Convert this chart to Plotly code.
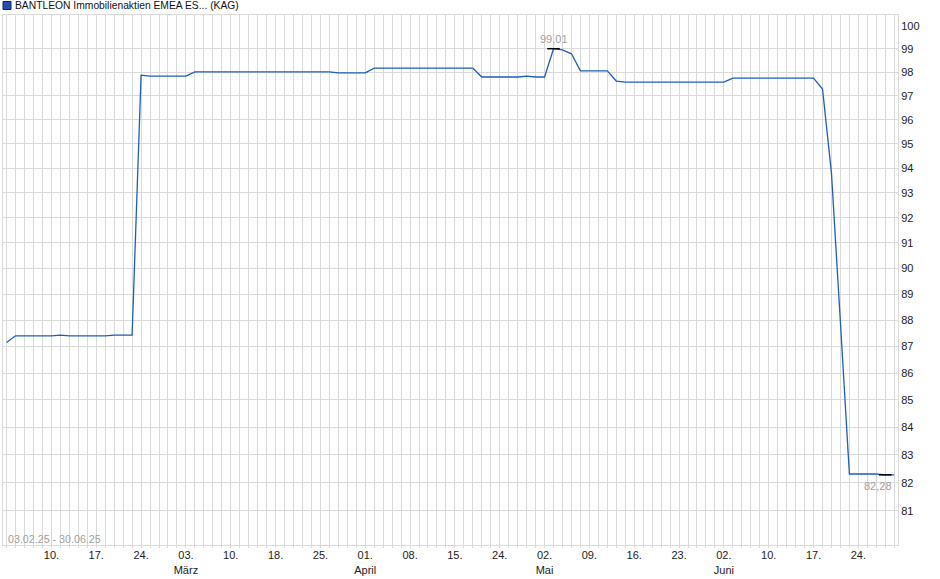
import plotly.graph_objects as go
import numpy as np

# fund prices (one value per trading day)
dates = [
    "2025-02-03", "2025-02-04", "2025-02-05", "2025-02-06", "2025-02-07",
    "2025-02-10", "2025-02-11", "2025-02-12", "2025-02-13", "2025-02-14",
    "2025-02-17", "2025-02-18", "2025-02-19", "2025-02-20", "2025-02-21",
    "2025-02-24", "2025-02-25", "2025-02-26", "2025-02-27", "2025-02-28",
    "2025-03-03", "2025-03-04", "2025-03-05", "2025-03-06", "2025-03-07",
    "2025-03-10", "2025-03-11", "2025-03-12", "2025-03-13", "2025-03-14",
    "2025-03-18", "2025-03-19", "2025-03-20", "2025-03-21", "2025-03-24",
    "2025-03-25", "2025-03-26", "2025-03-27", "2025-03-28", "2025-03-31",
    "2025-04-01", "2025-04-02", "2025-04-03", "2025-04-04", "2025-04-07",
    "2025-04-08", "2025-04-09", "2025-04-10", "2025-04-11", "2025-04-14",
    "2025-04-15", "2025-04-16", "2025-04-17", "2025-04-22", "2025-04-23",
    "2025-04-24", "2025-04-25", "2025-04-28", "2025-04-29", "2025-04-30",
    "2025-05-02", "2025-05-05", "2025-05-06", "2025-05-07", "2025-05-08",
    "2025-05-09", "2025-05-12", "2025-05-13", "2025-05-14", "2025-05-15",
    "2025-05-16", "2025-05-19", "2025-05-20", "2025-05-21", "2025-05-22",
    "2025-05-23", "2025-05-26", "2025-05-27", "2025-05-28", "2025-05-30",
    "2025-06-02", "2025-06-03", "2025-06-04", "2025-06-05", "2025-06-06",
    "2025-06-10", "2025-06-11", "2025-06-12", "2025-06-13", "2025-06-16",
    "2025-06-17", "2025-06-18", "2025-06-19", "2025-06-20", "2025-06-23",
    "2025-06-24", "2025-06-25", "2025-06-26", "2025-06-27", "2025-06-30",
]

prices = [
    87.15, 87.40, 87.40, 87.40, 87.40, 87.40, 87.43, 87.40, 87.40, 87.40,
    87.40, 87.40, 87.43, 87.43, 87.43, 97.88, 97.84, 97.84, 97.84, 97.84,
    97.84, 98.02, 98.02, 98.02, 98.02, 98.02, 98.02, 98.02, 98.02, 98.02,
    98.02, 98.02, 98.02, 98.02, 98.02, 98.02, 98.02, 97.98, 97.98, 97.98,
    97.98, 98.18, 98.18, 98.18, 98.18, 98.18, 98.18, 98.18, 98.18, 98.18,
    98.18, 98.18, 98.18, 97.80, 97.80, 97.80, 97.80, 97.80, 97.84, 97.80,
    97.80, 99.01, 98.96, 98.79, 98.06, 98.06, 98.06, 98.06, 97.63, 97.58,
    97.58, 97.58, 97.58, 97.58, 97.58, 97.58, 97.58, 97.58, 97.58, 97.58,
    97.58, 97.75, 97.75, 97.75, 97.75, 97.75, 97.75, 97.75, 97.75, 97.75,
    97.75, 97.29, 93.80, 87.90, 82.31, 82.31, 82.31, 82.31, 82.28, 82.28,
]

name = "BANTLEON Immobilienaktien EMEA ES... (KAG)"
y_ticks = list(range(81, 101))
y_grid = list(range(81, 100))
monate = {2: "Feb", 3: "März", 4: "April", 5: "Mai", 6: "Juni"}

grid = "#dadada"
blue = "#1d5cc4"
font = "Liberation Sans, Arial, sans-serif"

x = list(range(len(prices)))

# x ticks every 5th trading day, month name under the first tick of a month
tick_idx = list(range(5, len(dates), 5))
tick_txt = []
prev_month = None
for i in tick_idx:
    y_, m_, d_ = dates[i].split("-")
    m_ = int(m_)
    t = d_ + "."
    if prev_month is not None and m_ != prev_month:
        t += "<br>" + monate[m_]
    tick_txt.append(t)
    prev_month = m_

i_max = int(np.argmax(prices))
i_min = int(np.argmin(prices))

def fmt(v):
    return f"{v:.2f}".replace(".", ",")

def short(d):
    y_, m_, d_ = d.split("-")
    return f"{d_}.{m_}.{y_[2:]}"

yrange = [np.log10(79.81), np.log10(100.47)]

fig = go.Figure()
fig.add_trace(go.Scatter(
    x=x, y=prices, mode="lines", name=name,
    line=dict(color=blue, width=1.3), showlegend=False, hoverinfo="skip",
))
# small black marks at high and low
fig.add_trace(go.Scatter(
    x=[i_max, i_min], y=[prices[i_max], prices[i_min]], mode="markers",
    marker=dict(symbol="line-ew", size=9, line=dict(color="black", width=1.5)),
    yaxis="y2", showlegend=False, hoverinfo="skip",
))

fig.add_annotation(x=i_max, y=np.log10(prices[i_max]), text=fmt(prices[i_max]),
                   showarrow=False, yshift=10, font=dict(size=11, color="#a0a0a0", family=font))
fig.add_annotation(x=i_min, y=np.log10(prices[i_min]), text=fmt(prices[i_min]),
                   showarrow=False, xshift=-7, yshift=-11, font=dict(size=11, color="#a0a0a0", family=font))
fig.add_annotation(xref="paper", yref="paper", x=0, y=0, xanchor="left", yanchor="middle",
                   xshift=3, yshift=6, showarrow=False,
                   text=short(dates[0]) + " - " + short(dates[-1]),
                   font=dict(size=10.7, color="#a0a0a0", family=font))

# legend box + name
fig.add_shape(type="rect", xref="paper", yref="paper", xsizemode="pixel", ysizemode="pixel",
              xanchor=0, yanchor=1, x0=0, x1=8, y0=5.5, y1=13.5,
              fillcolor="#1f50b0", line=dict(color="#222244", width=1))
fig.add_annotation(xref="paper", yref="paper", x=0, y=1, xanchor="left", yanchor="middle",
                   xshift=10, yshift=9.5, showarrow=False, text=name,
                   font=dict(size=10.3, color="#111111", family=font))

fig.update_layout(
    width=940, height=579,
    margin=dict(l=3, r=42, t=15, b=34),
    paper_bgcolor="white", plot_bgcolor="white",
    font=dict(family=font, size=11, color="#222222"),
    xaxis=dict(
        range=[-0.4, 99.42], tickvals=tick_idx, ticktext=tick_txt,
        showgrid=True, gridcolor=grid, gridwidth=1, zeroline=False,
        showline=True, mirror=True, linecolor=grid, linewidth=1,
        ticks="", tickfont=dict(size=11, color="#222222"),
        minor=dict(dtick=1, tick0=0, showgrid=True, gridcolor=grid, gridwidth=1,
                   ticks="outside", ticklen=2, tickcolor=grid),
    ),
    yaxis=dict(
        type="log", range=yrange, side="right", tickvals=y_ticks,
        ticktext=[str(v) for v in y_ticks], showgrid=False, zeroline=False,
        showline=True, mirror=True, linecolor=grid, linewidth=1,
        ticks="", tickfont=dict(size=11, color="#222222"),
    ),
    yaxis2=dict(
        type="log", range=yrange, overlaying="y", side="right", tickvals=y_grid,
        showticklabels=False, showgrid=True, gridcolor=grid, gridwidth=1,
        zeroline=False, ticks="",
    ),
)

# drop the page's default body margin so the chart sits at the window's corner
fig.write_html("out.html", config={"displayModeBar": False},
               post_script="document.body.style.margin='0px';")
